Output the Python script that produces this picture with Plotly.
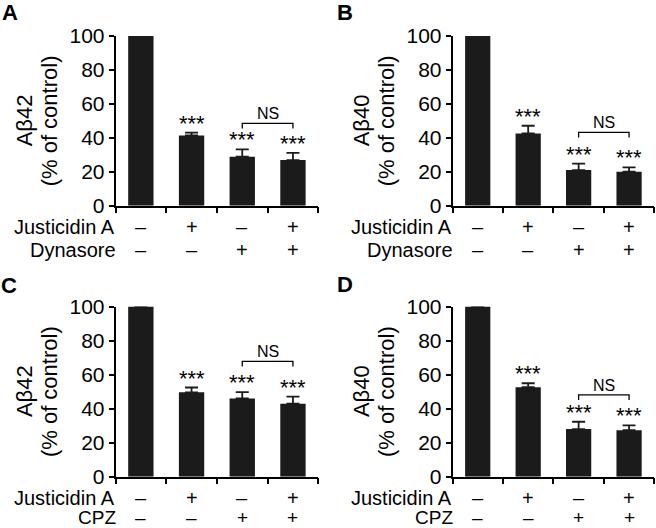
import plotly.graph_objects as go

# ---------------- data ----------------
panel_letters = ["A", "B", "C", "D"]
y_titles = ["Aβ42", "Aβ40", "Aβ42", "Aβ40"]
row1_label = "Justicidin A"
row2_labels = ["Dynasore", "Dynasore", "CPZ", "CPZ"]
justicidin_signs = ["–", "+", "–", "+"]
second_signs = ["–", "–", "+", "+"]
categories = [0, 1, 2, 3]

means_A = [100, 41.4, 28.9, 26.9]
err_A = [0, 1.7, 4.3, 4.2]
means_B = [100, 42.6, 21.0, 20.0]
err_B = [0, 4.5, 3.8, 2.6]
means_C = [100, 49.6, 46.0, 42.9]
err_C = [0, 2.8, 3.7, 4.2]
means_D = [100, 52.6, 28.0, 27.3]
err_D = [0, 2.3, 4.3, 2.9]

stars = ["", "***", "***", "***"]
ns_levels = [48.5, 43.2, 67.8, 48.1]
ns_tip = 3.0
ytick_vals = [0, 20, 40, 60, 80, 100]

means = [means_A, means_B, means_C, means_D]
errs = [err_A, err_B, err_C, err_D]

# ---------------- layout geometry ----------------
W, H = 656, 528
FONT = "Liberation Sans, Arial, sans-serif"


def px(x):
    return x / W


def py(y):
    return 1 - y / H


x_dom = [[px(115.5), px(318.3)], [px(452.5), px(654.3)]]
y_dom = [[py(205.7), py(36)], [py(476.7), py(306.5)]]
letter_pos = [(9.5, 12.5), (345, 12.5), (8.5, 285.5), (345, 284.5)]
row_shift = [(-21, -44), (-21, -40.5)]
row2_size = [20, 19]

fig = go.Figure()
layout = dict(
    template="none",
    width=W, height=H, margin=dict(l=0, r=0, t=0, b=0, autoexpand=False),
    paper_bgcolor="white", plot_bgcolor="white", showlegend=False,
    font=dict(family=FONT, color="black"),
)
annotations = []
shapes = []

for i in range(4):
    row, col = divmod(i, 2)
    sfx = "" if i == 0 else str(i + 1)
    xa, ya = "x" + sfx, "y" + sfx
    fig.add_trace(go.Bar(
        x=categories, y=means[i], width=0.5,
        marker=dict(color="#1b1b1b", line=dict(width=0)),
        error_y=dict(type="data", array=errs[i], arrayminus=[0] * 4,
                     symmetric=False, color="#1b1b1b", thickness=1.8, width=6.5),
        xaxis=xa, yaxis=ya,
    ))
    layout["xaxis" + sfx] = dict(
        domain=x_dom[col], anchor=ya, range=[-0.5, 3.5], automargin=False,
        tickmode="array", tickvals=[-0.5, 0.5, 1.5, 2.5, 3.5],
        ticks="outside", ticklen=6, tickwidth=1.5, tickcolor="black",
        showticklabels=False, showline=True, linecolor="black", linewidth=1.5,
        showgrid=False, zeroline=False, fixedrange=True,
    )
    layout["yaxis" + sfx] = dict(
        domain=y_dom[row], anchor=xa, range=[0, 100], automargin=False,
        tickmode="array", tickvals=ytick_vals,
        ticks="outside", ticklen=5, tickwidth=1.5, tickcolor="black",
        tickfont=dict(size=21, family=FONT, color="black"),
        showline=True, linecolor="black", linewidth=1.5,
        showgrid=False, zeroline=False, fixedrange=True,
    )

    # y titles
    x_ax_left = x_dom[col][0] * W
    annotations.append(dict(
        text=y_titles[i], xref="paper", yref=ya + " domain",
        x=px(x_ax_left - 91), y=0.5, textangle=-90, showarrow=False,
        xanchor="center", yanchor="middle",
        font=dict(size=22, family=FONT, color="black")))
    annotations.append(dict(
        text="(% of control)", xref="paper", yref=ya + " domain",
        x=px(x_ax_left - 66), y=0.5, textangle=-90, showarrow=False,
        xanchor="center", yanchor="middle",
        font=dict(size=22, family=FONT, color="black")))

    # panel letter
    lx, ly = letter_pos[i]
    annotations.append(dict(
        text="<b>%s</b>" % panel_letters[i], xref="paper", yref="paper",
        x=px(lx), y=py(ly), showarrow=False, xanchor="center", yanchor="middle",
        font=dict(size=22, family=FONT, color="black")))

    # row labels
    s1, s2 = row_shift[row]
    f2 = row2_size[row]
    annotations.append(dict(
        text=row1_label, xref=xa, yref=ya, x=-0.5, y=0, xshift=1, yshift=s1,
        showarrow=False, xanchor="right", yanchor="middle",
        font=dict(size=20, family=FONT, color="black")))
    annotations.append(dict(
        text=row2_labels[i], xref=xa, yref=ya, x=-0.5, y=0, xshift=2, yshift=s2,
        showarrow=False, xanchor="right", yanchor="middle",
        font=dict(size=f2, family=FONT, color="black")))
    for c in categories:
        annotations.append(dict(
            text=justicidin_signs[c], xref=xa, yref=ya, x=c, y=0, yshift=s1,
            showarrow=False, xanchor="center", yanchor="middle",
            font=dict(size=20, family=FONT, color="black")))
        annotations.append(dict(
            text=second_signs[c], xref=xa, yref=ya, x=c, y=0, yshift=s2,
            showarrow=False, xanchor="center", yanchor="middle",
            font=dict(size=f2, family=FONT, color="black")))
        if stars[c]:
            annotations.append(dict(
                text=stars[c], xref=xa, yref=ya, x=c, y=means[i][c] + errs[i][c],
                yshift=-5, showarrow=False, xanchor="center", yanchor="bottom",
                font=dict(size=22, family=FONT, color="black")))

    # NS bracket
    yb = ns_levels[i]
    shapes.append(dict(
        type="path", xref=xa, yref=ya,
        path="M 2,%g L 2,%g L 3,%g L 3,%g" % (yb - ns_tip, yb, yb, yb - ns_tip),
        line=dict(color="black", width=1.3)))
    annotations.append(dict(
        text="NS", xref=xa, yref=ya, x=2.5, y=yb, yshift=-1,
        showarrow=False, xanchor="center", yanchor="bottom",
        font=dict(size=16, family=FONT, color="black")))

layout["annotations"] = annotations
layout["shapes"] = shapes
fig.update_layout(**layout)
fig.write_html("out.html", config={"displayModeBar": False},
               post_script="document.body.style.margin='0px';")
